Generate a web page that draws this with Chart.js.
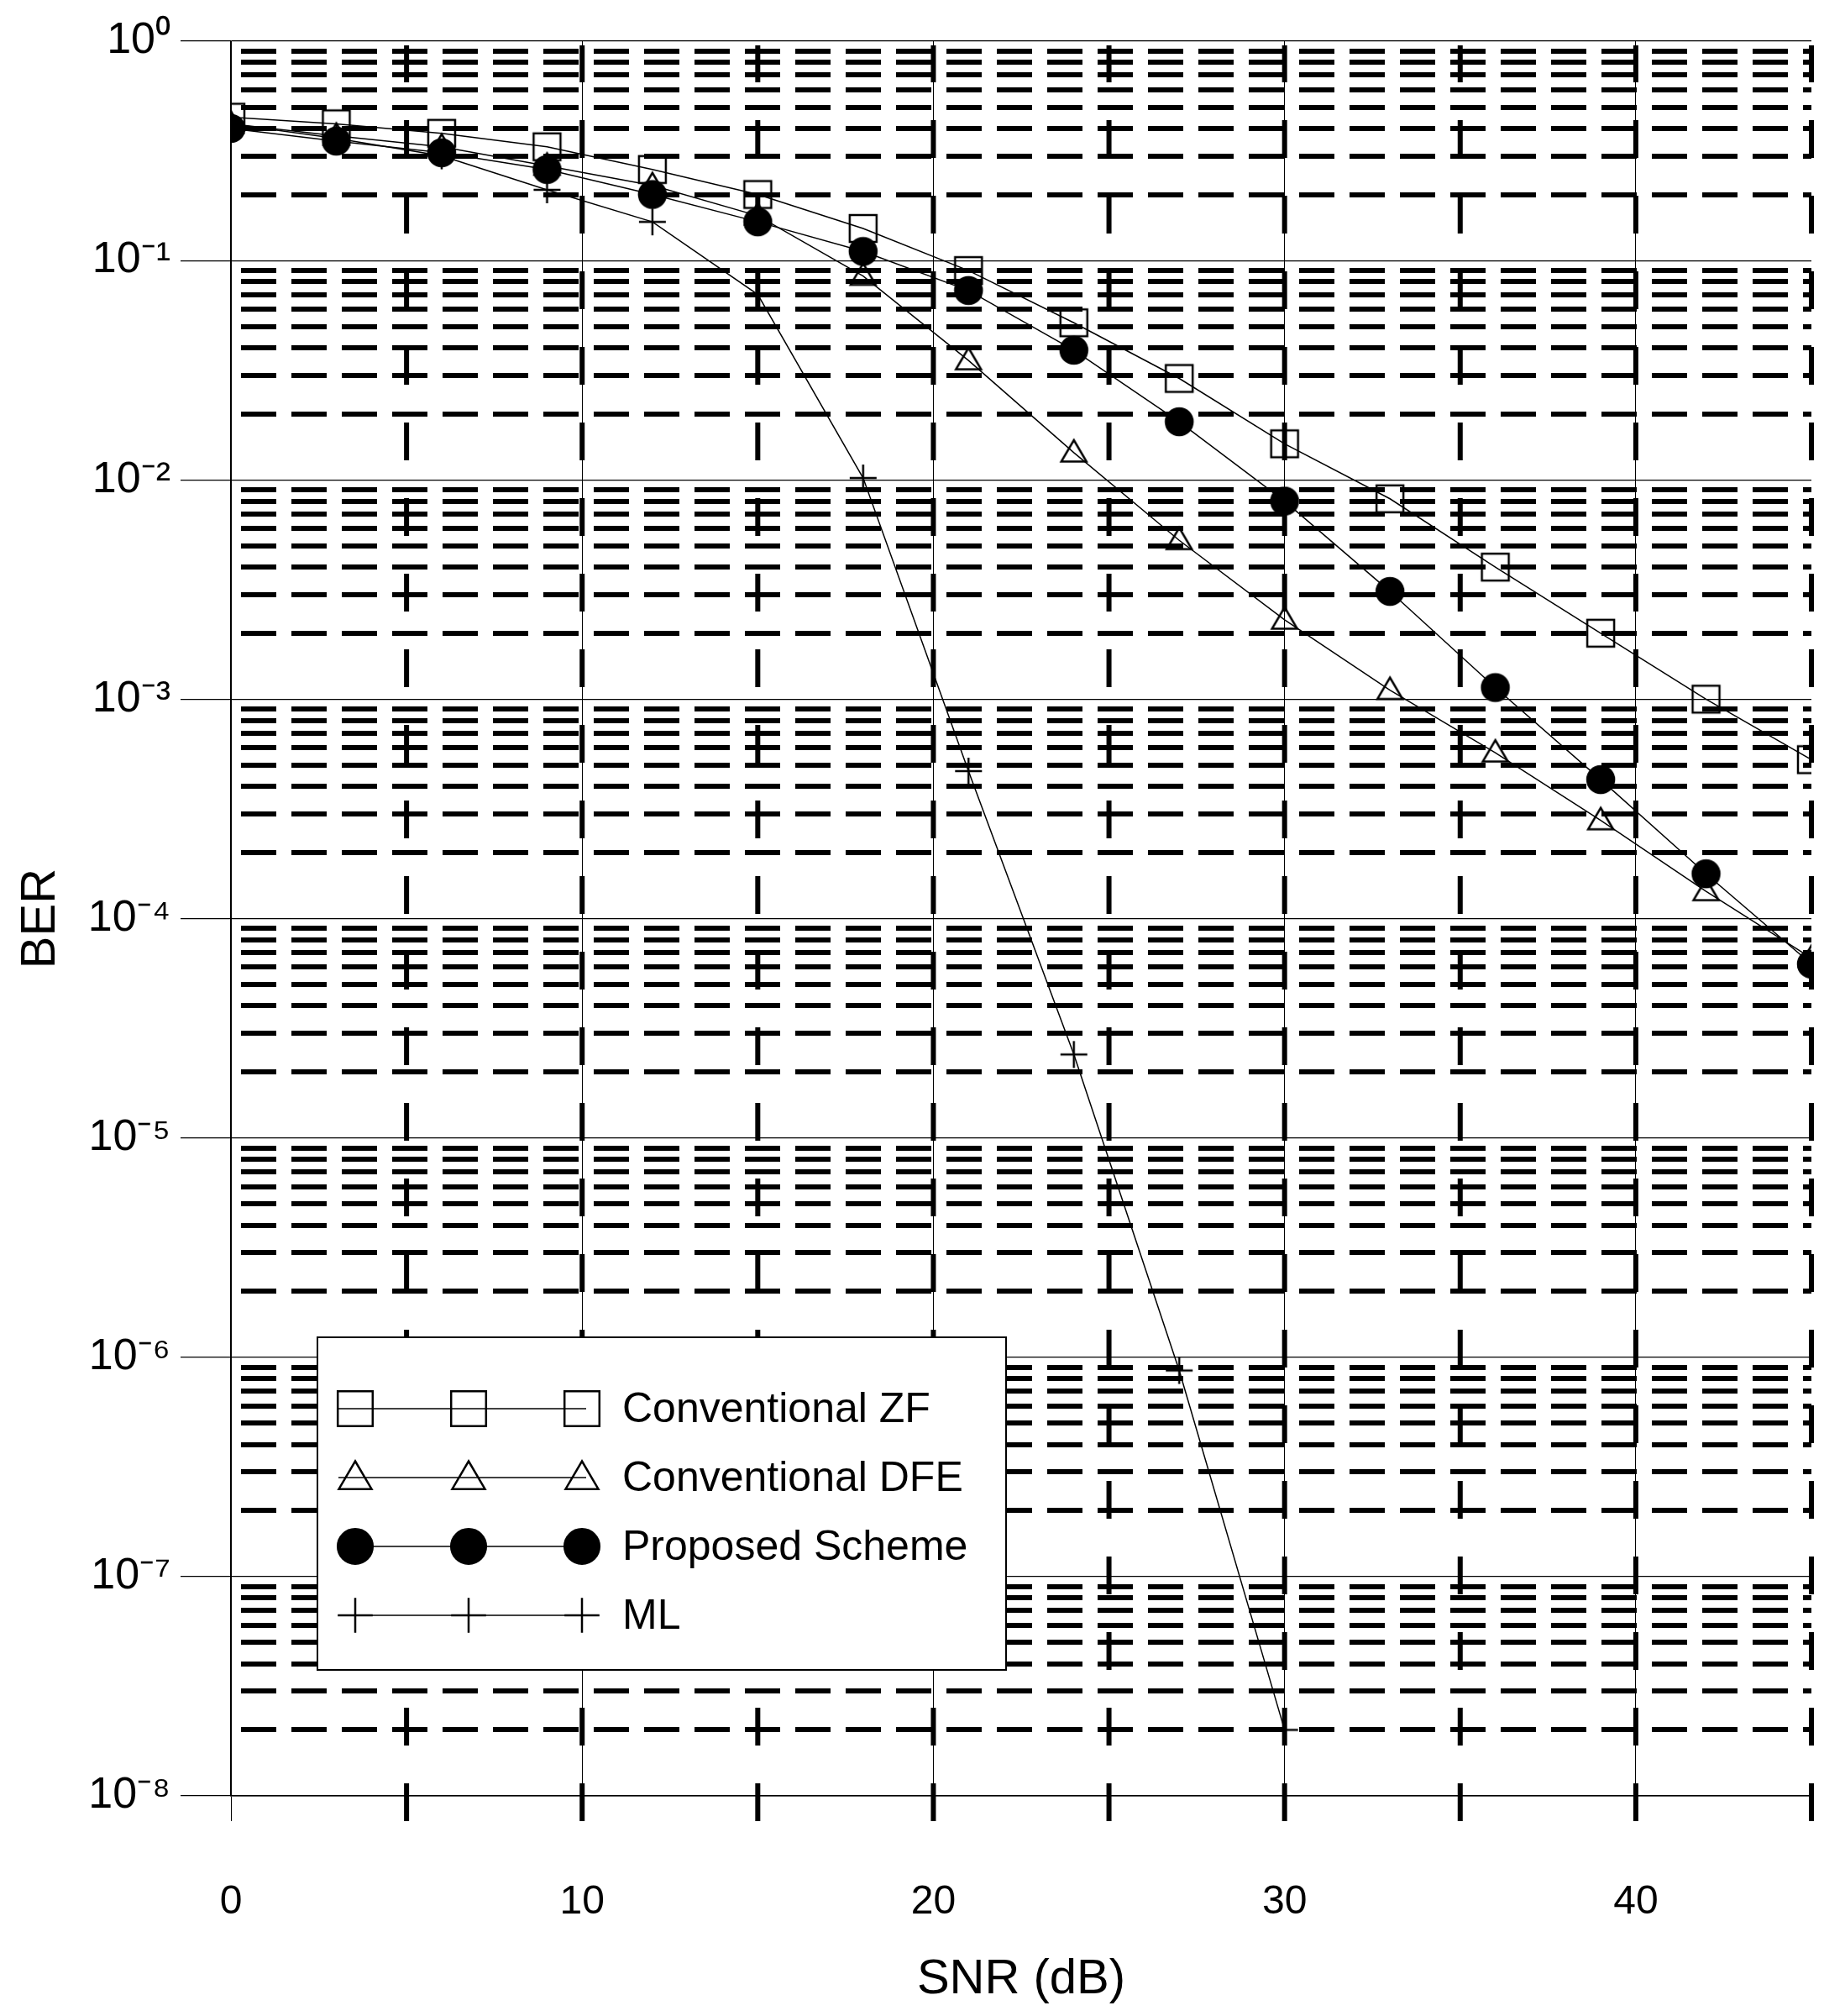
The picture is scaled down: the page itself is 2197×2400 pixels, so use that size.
<!DOCTYPE html>
<html><head><meta charset="utf-8">
<script src="https://cdn.jsdelivr.net/npm/chart.js@4/dist/chart.umd.min.js"></script>
<style>html,body{margin:0;padding:0;background:#fff}#w{width:2197px;height:2400px}</style>
</head><body><div id="w"><canvas id="c"></canvas></div>
<script>
const snr = [0,3,6,9,12,15,18,21,24,27,30,33,36,39,42,45];
const berZF = [0.45,0.42,0.38,0.33,0.26,0.2,0.14,0.09,0.052,0.029,0.0146,0.0082,0.004,0.002,0.001,0.00053];
const berDFE = [0.42,0.37,0.33,0.27,0.22,0.16,0.085,0.035,0.0133,0.0053,0.0023,0.0011,0.00057,0.00028,0.000133,0.000066];
const berProp = [0.4,0.35,0.31,0.26,0.2,0.15,0.11,0.073,0.039,0.0184,0.008,0.0031,0.00113,0.00043,0.00016,0.000062];
const snrML = [0,3,6,9,12,15,18,21,24,27,30];
const berML = [0.42,0.36,0.3,0.21,0.15,0.07,0.0102,0.00047,0.000024,0.00000087,0.00000002];
const xTicks = [0,10,20,30,40];
const sup = {'-':'⁻','0':'⁰','1':'¹','2':'²','3':'³','4':'⁴','5':'⁵','6':'⁶','7':'⁷','8':'⁸','9':'⁹'};
const seriesNames = ['Conventional ZF','Conventional DFE','Proposed Scheme','ML'];

const FONT = '"Liberation Sans", Arial, sans-serif';
function marker(ctx,style,cx,cy,r,fill){
  ctx.fillStyle=fill;ctx.strokeStyle='#000';ctx.lineWidth=2.5;ctx.setLineDash([]);
  ctx.beginPath();
  if(style==='rect'){ctx.rect(cx-r,cy-r,2*r,2*r);ctx.fill();ctx.stroke();}
  else if(style==='triangle'){ctx.moveTo(cx,cy-r);ctx.lineTo(cx+r,cy+r*0.7);ctx.lineTo(cx-r,cy+r*0.7);ctx.closePath();ctx.fill();ctx.stroke();}
  else if(style==='circle'){ctx.arc(cx,cy,r,0,Math.PI*2);ctx.fill();ctx.stroke();}
  else {ctx.moveTo(cx-r,cy);ctx.lineTo(cx+r,cy);ctx.moveTo(cx,cy-r);ctx.lineTo(cx,cy+r);ctx.stroke();}
}
const bgGrid = {
  id:'bgGrid',
  beforeDatasetsDraw(ch){
    const {ctx,scales:{x,y},chartArea:a} = ch;
    ctx.save();
    ctx.strokeStyle='#000';
    ctx.lineWidth=6; ctx.setLineDash([42,18]);
    for(let e=-8;e<0;e++){for(let m=2;m<=9;m++){
      const py=Math.round(y.getPixelForValue(m*Math.pow(10,e)));
      ctx.beginPath();ctx.moveTo(x.getPixelForValue(0)+12,py);ctx.lineTo(x.getPixelForValue(45),py);ctx.stroke();}}
    ctx.setLineDash([45,45]);
    for(let v=5;v<=45;v+=5){const px=x.getPixelForValue(v);
      ctx.beginPath();ctx.moveTo(px,a.bottom+30);ctx.lineTo(px,a.top+5);ctx.stroke();}
    ctx.restore();
  },
  afterDraw(ch){
    const {ctx} = ch;
    const L=378,T=1592,W=820,H=396;
    ctx.save();
    ctx.fillStyle='#fff';ctx.fillRect(L,T,W,H);
    ctx.strokeStyle='#000';ctx.lineWidth=2;ctx.setLineDash([]);ctx.strokeRect(L,T,W,H);
    const sets=ch.data.datasets;
    for(let i=0;i<4;i++){
      const cy=T+85+i*82;
      ctx.strokeStyle='#000';ctx.lineWidth=1.5;ctx.beginPath();ctx.moveTo(L+25,cy);ctx.lineTo(L+320,cy);ctx.stroke();
      [L+45,L+180,L+315].forEach(cx=>{
        const ds=sets[i];
        marker(ctx,ds.mstyle,cx,cy,ds.mr*1.3,ds.mfill);
      });
      ctx.fillStyle='#000';ctx.font='50px '+FONT;ctx.textBaseline='middle';
      ctx.fillText(seriesNames[i],L+363,cy+2);
    }
    ctx.restore();
  }
};
const mk=(label,xs,ys,style,r,fill)=>({label,data:xs.map((v,i)=>({x:v,y:ys[i]})),borderColor:'#000',borderWidth:1.5,
  mstyle:style,mr:r,mfill:fill,
  pointStyle:(c)=>{const cv=document.createElement('canvas');const s=Math.ceil(r*2+8);cv.width=s;cv.height=s;marker(cv.getContext('2d'),style,s/2,s/2,r,fill);return cv;},
  pointRadius:r,tension:0,fill:false});
new Chart(document.getElementById('c'),{
  type:'line',
  data:{datasets:[
    mk(seriesNames[0],snr,berZF,'rect',16,'rgba(255,255,255,0)'),
    mk(seriesNames[1],snr,berDFE,'triangle',15,'rgba(255,255,255,0)'),
    mk(seriesNames[2],snr,berProp,'circle',16,'#000'),
    mk(seriesNames[3],snrML,berML,'cross',16,'#000')
  ]},
  plugins:[bgGrid],
  options:{responsive:true,maintainAspectRatio:false,animation:false,
    layout:{padding:{top:49,right:40,left:10,bottom:0}},
    plugins:{legend:{display:false},tooltip:{enabled:false}},
    scales:{
      x:{type:'linear',min:0,max:45,
        afterBuildTicks(s){s.ticks=xTicks.map(v=>({value:v}));},
        afterFit(s){s.height=262;},
        ticks:{color:'#000',font:{size:48,family:FONT},padding:68},
        grid:{color:'#000',lineWidth:1,drawTicks:true,tickLength:30},
        border:{color:'#000',width:1.5},
        title:{display:true,text:'SNR (dB)',color:'#000',font:{size:58,family:FONT},padding:{top:0,bottom:8}}},
      y:{type:'logarithmic',min:1e-8,max:1,
        afterBuildTicks(s){const t=[];for(let e=-8;e<=0;e++){t.push({value:Math.pow(10,e),major:true});if(e<0)for(let m=2;m<=9;m++)t.push({value:m*Math.pow(10,e)});}s.ticks=t;},
        afterFit(s){s.width=265;},
        ticks:{color:'#000',font:{size:52,family:FONT},padding:12,autoSkip:false,
          callback(v){const e=Math.log10(v);if(Math.abs(e-Math.round(e))>1e-6)return '';return '10'+String(Math.round(e)).split('').map(c=>sup[c]).join('');}},
        grid:{color:'#000',tickLength:60,
          lineWidth:(c)=>{const v=c.tick&&c.tick.value;if(!v)return 1;const e=Math.log10(v);return Math.abs(e-Math.round(e))<1e-6?1.2:0;}},
        border:{color:'#000',width:1.5},
        title:{display:true,text:'BER',color:'#000',font:{size:58,family:FONT},padding:{bottom:6}}}
    }}
});
</script></body></html>
